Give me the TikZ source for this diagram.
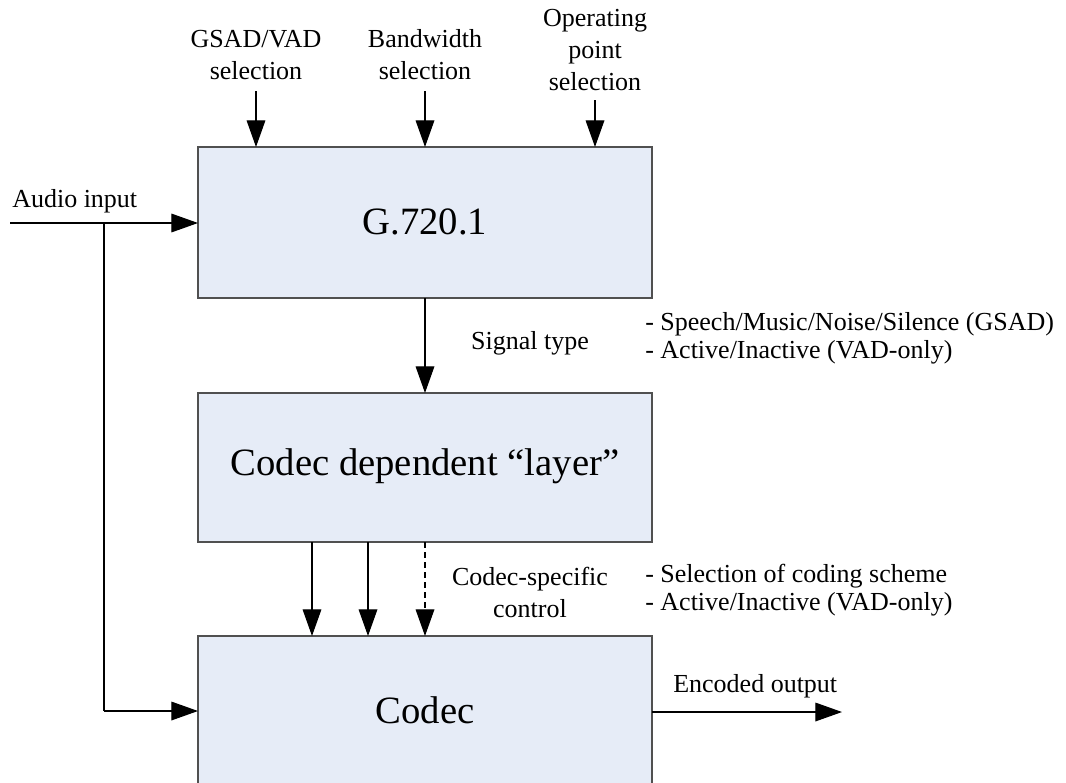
\documentclass[tikz,border=0pt]{standalone}
\usepackage{fontspec}
\setmainfont{Liberation Serif}
\usetikzlibrary{arrows.meta}
\definecolor{boxfill}{HTML}{E6ECF7}
\definecolor{boxline}{HTML}{505050}
\tikzset{
  block/.style={draw=boxline, line width=1pt, fill=boxfill, inner sep=0pt},
  lbl/.style={font=\fontsize{19.5pt}{24pt}\selectfont, align=center, inner sep=0pt},
  desc/.style={font=\fontsize{19.5pt}{21pt}\selectfont, align=left, anchor=west, inner sep=0pt},
  blbl/.style={font=\fontsize{29pt}{34pt}\selectfont, inner sep=0pt},
  conn/.style={line width=0.9pt, -{Triangle[length=20pt,width=14pt]}},
  plain/.style={line width=0.9pt}
}
\begin{document}
\begin{tikzpicture}[x=0.75pt,y=-0.75pt]
\useasboundingbox (0,0) rectangle (1066,782);
% boxes
\filldraw[block] (198,147) rectangle (652,298);
\node[blbl] (g7201) at (425,222) {G.720.1};
\filldraw[block] (198,393) rectangle (652,542);
\node[blbl] (cdl) at (425,466) {Codec dependent “layer”};
\filldraw[draw=boxline, line width=1pt, fill=boxfill] (198,800) -- (198,636) -- (652,636) -- (652,800);
\node[blbl] (codec) at (425,710) {Codec};
% named anchor coordinates
\coordinate (g1) at (256,91);
\coordinate (g1e) at (256,147);
\coordinate (b1) at (425,91);
\coordinate (b1e) at (425,147);
\coordinate (o1) at (595,100);
\coordinate (o1e) at (595,147);
\coordinate (ain) at (10,223);
\coordinate (ainE) at (198,223);
\coordinate (split) at (104,223);
\coordinate (corner) at (104,711);
\coordinate (cin) at (198,711);
\coordinate (s1) at (425,298);
\coordinate (s1e) at (425,393);
\coordinate (c1) at (312,542);
\coordinate (c1e) at (312,636);
\coordinate (c2) at (368,542);
\coordinate (c2e) at (368,636);
\coordinate (c3) at (425,542);
\coordinate (c3e) at (425,636);
\coordinate (eo) at (652,712);
\coordinate (eoE) at (842,712);
% top labels
\node[lbl] (gsad) at (256,55) {GSAD/VAD\\selection};
\node[lbl] (bw) at (425,55) {Bandwidth\\selection};
\node[lbl] (op) at (595,50) {Operating\\point\\selection};
% arrows
\draw[conn] (g1) -- (g1e);
\draw[conn] (b1) -- (b1e);
\draw[conn] (o1) -- (o1e);
\draw[conn] (ain) -- (ainE);
\draw[plain] (split) -- (corner);
\draw[conn] (corner) -- (cin);
\draw[conn] (s1) -- (s1e);
\draw[conn] (c1) -- (c1e);
\draw[conn] (c2) -- (c2e);
\draw[conn, dash pattern=on 4.5pt off 3pt] (c3) -- (c3e);
\draw[conn] (eo) -- (eoE);
% labels
\node[lbl, anchor=west] (audio) at (12,201) {Audio input};
\node[lbl] (sigtype) at (530,343) {Signal type};
\node[desc] (sigdesc) at (645,338) {- Speech/Music/Noise/Silence (GSAD)\\- Active/Inactive (VAD-only)};
\node[lbl] (csc) at (530,592) {Codec-specific\\control};
\node[desc] (cscdesc) at (645,590) {- Selection of coding scheme\\- Active/Inactive (VAD-only)};
\node[lbl, anchor=west] (enc) at (673,686) {Encoded output};
\end{tikzpicture}
\end{document}
